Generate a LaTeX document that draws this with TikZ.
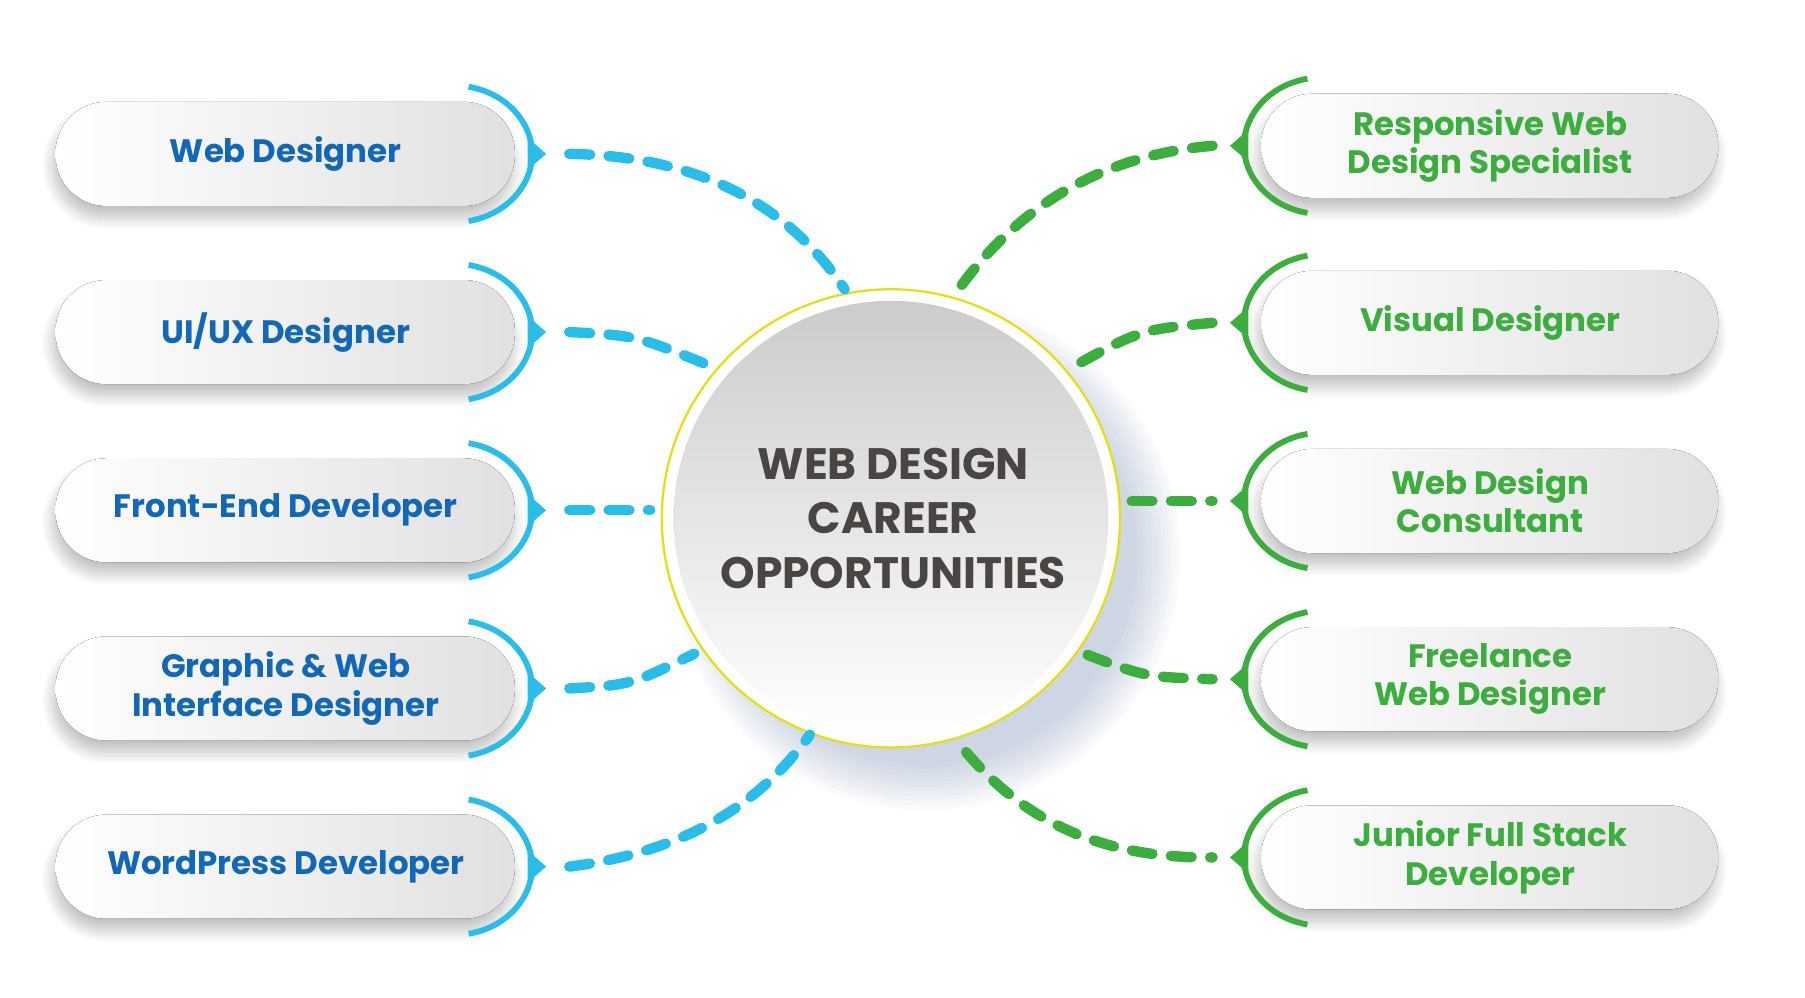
\documentclass[tikz,border=0pt]{standalone}
\usepackage{fontspec}
\setmainfont{Poppins}[BoldFont=* Bold]
\usetikzlibrary{shadows,shadows.blur}
\definecolor{cy}{HTML}{29BDEA}
\definecolor{bl}{HTML}{1167B8}
\definecolor{gr}{HTML}{3BAE3D}
\definecolor{tx}{HTML}{4A4542}
\definecolor{sh}{HTML}{8FA0C0}
\tikzset{
 pill/.style={rounded corners=44pt, left color=white, right color=black!12, draw=none,
   blur shadow={shadow xshift=-2pt, shadow yshift=-10pt, shadow blur radius=10pt, shadow blur steps=12, shadow opacity=25}},
 lt/.style={font=\bfseries\fontsize{28}{33}\selectfont, text=bl, align=center},
 rt/.style={font=\bfseries\fontsize{28}{33}\selectfont, text=gr, align=center},
 dl/.style={line width=9pt, line cap=round, dash pattern=on 18pt off 16pt},
}
\begin{document}
\begin{tikzpicture}[x=1pt,y=-1pt]
\useasboundingbox (0,0) rectangle (1560,862);
% central circle glow
\foreach \r in {0,4,...,40}{
  \fill[sh, opacity=0.05] (800,480) circle (200+\r-20);
}
\fill[white] (770,448) circle (198);
\shade[top color=black!20, bottom color=white] (770,448) circle (188);
\draw[yellow!90!black, line width=2pt] (770,448) circle (198);
\node[font=\bfseries\fontsize{38}{47}\selectfont, text=tx, align=center] (c) at (772,448) {WEB DESIGN\\CAREER\\OPPORTUNITIES};
% left items
\foreach \y/\t [count=\i] in {133/{Web Designer},287/{UI/UX Designer},441/{Front-End Developer},595/{Graphic \& Web\\Interface Designer},749/{WordPress Developer}}{
  \fill[pill] (48,\y-45) rectangle (445,\y+45);
  \node[lt] (l\i) at (247,\y) {\t};
  \draw[cy, line width=5pt] (405,\y-58) .. controls (440,\y-52) and (460,\y-25) .. (460,\y) .. controls (460,\y+25) and (440,\y+52) .. (405,\y+58);
  \fill[cy] (456,\y-14) -- (472,\y) -- (456,\y+14) -- cycle;
  \coordinate (la\i) at (492,\y);
}
% right items
\foreach \y/\t [count=\i] in {126/{Responsive Web\\Design Specialist},279/{Visual Designer},433/{Web Design\\Consultant},587/{Freelance\\Web Designer},741/{Junior Full Stack\\Developer}}{
  \fill[pill] (1090,\y-45) rectangle (1485,\y+45);
  \node[rt] (r\i) at (1288,\y) {\t};
  \draw[gr, line width=5pt] (1130,\y-58) .. controls (1095,\y-52) and (1075,\y-25) .. (1075,\y) .. controls (1075,\y+25) and (1095,\y+52) .. (1130,\y+58);
  \fill[gr] (1079,\y-14) -- (1063,\y) -- (1079,\y+14) -- cycle;
  \coordinate (ra\i) at (1048,\y);
}
\coordinate (lb1) at (730,250); \coordinate (lb2) at (618,318);
\coordinate (lb3) at (562,441); \coordinate (lb4) at (600,565);
\coordinate (lb5) at (700,635);
\coordinate (rb1) at (825,255); \coordinate (rb2) at (922,320);
\coordinate (rb3) at (978,433); \coordinate (rb4) at (940,566);
\coordinate (rb5) at (835,650);
\draw[dl,cy] (la1) .. controls (620,135) and (690,190) .. (lb1);
\draw[dl,cy] (la2) .. controls (550,290) .. (lb2);
\draw[dl,cy] (la3) -- (lb3);
\draw[dl,cy] (la4) .. controls (545,592) .. (lb4);
\draw[dl,cy] (la5) .. controls (600,735) and (660,690) .. (lb5);
\draw[dl,gr] (ra1) .. controls (940,135) and (870,190) .. (rb1);
\draw[dl,gr] (ra2) .. controls (985,285) .. (rb2);
\draw[dl,gr] (rb3) -- (ra3);
\draw[dl,gr] (rb4) .. controls (990,585) .. (ra4);
\draw[dl,gr] (rb5) .. controls (890,715) and (960,742) .. (ra5);
\end{tikzpicture}
\end{document}
